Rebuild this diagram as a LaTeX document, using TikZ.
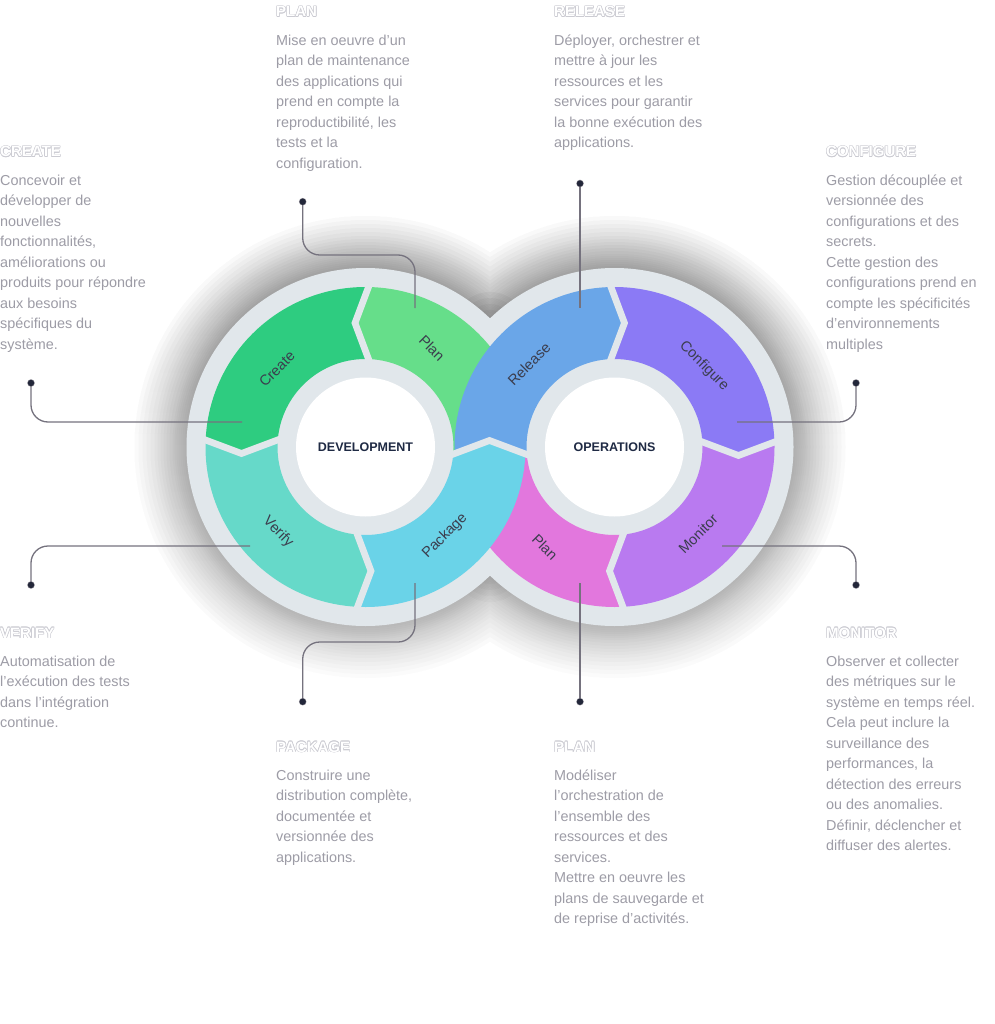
\documentclass[tikz,border=0pt]{standalone}
\usepackage{fontspec}
\setmainfont{Liberation Sans}
\usetikzlibrary{calc}
\definecolor{cCreate}{HTML}{2ECC80}
\definecolor{cPlanDev}{HTML}{66DE8A}
\definecolor{cVerify}{HTML}{66D9C9}
\definecolor{cPackage}{HTML}{6AD3E8}
\definecolor{cRelease}{HTML}{6AA6E8}
\definecolor{cConfigure}{HTML}{8B7AF5}
\definecolor{cPlanOps}{HTML}{E277DD}
\definecolor{cMonitor}{HTML}{B97AF0}
\definecolor{rim}{HTML}{E1E7EB}
\definecolor{shade}{RGB}{60,55,75}
\definecolor{bodytxt}{HTML}{9D9CA6}
\definecolor{segtxt}{HTML}{3B3D4D}
\definecolor{centertxt}{HTML}{1F2A44}
\definecolor{wire}{HTML}{75727E}
\definecolor{dotc}{HTML}{23273A}
\definecolor{titleedge}{HTML}{CBCBD2}
\newcommand\outlinedtitle[3]{%
  \foreach \ox/\oy in {-0.6/0,0.6/0,0/-0.6,0/0.6,-0.45/-0.45,0.45/0.45,-0.45/0.45,0.45/-0.45}{
    \node[titleback] at ($(#2)+(\ox,\oy)$) {#3};
  }
  \node[titlefront] (#1) at (#2) {#3};
}
\begin{document}
\begin{tikzpicture}[x=1pt,y=-1pt,
  titleback/.style={anchor=base west,inner sep=0pt,font=\fontsize{15}{18}\selectfont\bfseries,text=titleedge},
  titlefront/.style={anchor=base west,inner sep=0pt,font=\fontsize{15}{18}\selectfont\bfseries,text=white},
  bodyblock/.style={anchor=north west,inner sep=0pt,align=left,font=\fontsize{14.4}{20.5}\selectfont,text=bodytxt},
  seglbl/.style={inner sep=0pt,font=\fontsize{14.5}{16}\selectfont,text=segtxt},
  centerlbl/.style={inner sep=0pt,font=\fontsize{12.5}{15}\selectfont\bfseries,text=centertxt},
  gapline/.style={draw=rim,line width=6.7pt,line join=miter},
  conn/.style={draw=wire,line width=1.3pt,rounded corners=17pt},
  dotnode/.style={circle,inner sep=0pt,minimum size=6pt,fill=dotc,draw=wire!80,line width=1.4pt}]
\useasboundingbox (0,0) rectangle (994,1024);
\fill[white] (0,0) rectangle (994,1024);

\coordinate (L) at (365.5,447);
\coordinate (R) at (614.5,447);

% ---- shadow ----
\foreach \d in {52,48,44,40,36,32,29,26,23,20,17,14,12,10,8,6,4,2}{
  \fill[shade,opacity=0.017] (L) circle[radius=179+\d] (R) circle[radius=179+\d];
}
\foreach \r in {36,30,...,6}{
  \fill[shade,opacity=0.025] (490,328) circle[radius=\r];
  \fill[shade,opacity=0.025] (490,566) circle[radius=\r];
}

% ---- grey disks ----
\fill[rim] (L) circle[radius=179] (R) circle[radius=179];

% ---- chevron points ----
\coordinate (LTo) at (368.5,287); \coordinate (LTt) at (355,323);   \coordinate (LTi) at (368.5,359);
\coordinate (LLo) at (205.5,440); \coordinate (LLt) at (241.5,453.5); \coordinate (LLi) at (277.5,440);
\coordinate (LBo) at (357.5,607); \coordinate (LBt) at (371,571);   \coordinate (LBi) at (357.5,535);
\coordinate (Mo) at (525.5,454);  \coordinate (Mt) at (489.5,440.5); \coordinate (Mi) at (453.5,454);
\coordinate (RTo) at (611,287);   \coordinate (RTt) at (624.5,323); \coordinate (RTi) at (611,359);
\coordinate (RRo) at (774.5,442); \coordinate (RRt) at (738.5,455.5); \coordinate (RRi) at (702.5,442);
\coordinate (RBo) at (623,607);   \coordinate (RBt) at (609.5,571); \coordinate (RBi) at (623,535);
\foreach \c in {LT,LL,LB,RT,RR,RB}{
  \coordinate (\c of) at ($(\c t)!3!(\c o)$);
  \coordinate (\c if) at ($(\c t)!2.5!(\c i)$);
  \coordinate (\c og) at ($(\c t)!1.35!(\c o)$);
  \coordinate (\c ig) at ($(\c t)!1.3!(\c i)$);
}
\coordinate (Ma) at ($(Mt)!3!(Mo)$);
\coordinate (Mb) at ($(Mt)!3!(Mi)$);
\coordinate (Mag) at ($(Mt)!1.35!(Mo)$);
\coordinate (Mbg) at ($(Mt)!1.3!(Mi)$);

% ---- segments ----
\begin{scope}
  \clip (L) -- (LTif) -- (LTt) -- (LTof) -- ($(L)+(300,-300)$) -- (Ma) -- (Mt) -- (Mb) -- cycle;
  \fill[cPlanDev,even odd rule] (L) circle[radius=160] (L) circle[radius=88];
\end{scope}
\begin{scope}
  \clip (R) -- (RBif) -- (RBt) -- (RBof) -- ($(R)+(-300,300)$) -- (Mb) -- (Mt) -- (Ma) -- cycle;
  \fill[cPlanOps,even odd rule] (R) circle[radius=160] (R) circle[radius=88];
\end{scope}
\begin{scope}
  \clip (L) -- (LTif) -- (LTt) -- (LTof) -- ($(L)+(-300,-300)$) -- (LLof) -- (LLt) -- (LLif) -- cycle;
  \fill[cCreate,even odd rule] (L) circle[radius=160] (L) circle[radius=88];
\end{scope}
\begin{scope}
  \clip (L) -- (LLif) -- (LLt) -- (LLof) -- ($(L)+(-300,300)$) -- (LBof) -- (LBt) -- (LBif) -- cycle;
  \fill[cVerify,even odd rule] (L) circle[radius=160] (L) circle[radius=88];
\end{scope}
\begin{scope}
  \clip (L) -- (LBif) -- (LBt) -- (LBof) -- ($(L)+(300,300)$) -- (Ma) -- (Mt) -- (Mb) -- cycle;
  \fill[cPackage,even odd rule] (L) circle[radius=160] (L) circle[radius=88];
\end{scope}
\begin{scope}
  \clip (R) -- (Ma) -- (Mt) -- (Mb) -- ($(R)+(-300,-300)$) -- (RTof) -- (RTt) -- (RTif) -- cycle;
  \fill[cRelease,even odd rule] (R) circle[radius=160] (R) circle[radius=88];
\end{scope}
\begin{scope}
  \clip (R) -- (RTif) -- (RTt) -- (RTof) -- ($(R)+(300,-300)$) -- (RRof) -- (RRt) -- (RRif) -- cycle;
  \fill[cConfigure,even odd rule] (R) circle[radius=160] (R) circle[radius=88];
\end{scope}
\begin{scope}
  \clip (R) -- (RRif) -- (RRt) -- (RRof) -- ($(R)+(300,300)$) -- (RBof) -- (RBt) -- (RBif) -- cycle;
  \fill[cMonitor,even odd rule] (R) circle[radius=160] (R) circle[radius=88];
\end{scope}

% ---- gaps ----
\foreach \c in {LT,LL,LB,RT,RR,RB}{
  \draw[gapline] (\c ig) -- (\c t) -- (\c og);
}
\draw[gapline] (Mbg) -- (Mt) -- (Mag);

% ---- hubs ----
\fill[white] (L) circle[radius=69.5];
\fill[white] (R) circle[radius=69.5];
\node[centerlbl] (devlbl) at (L) {DEVELOPMENT};
\node[centerlbl] (opslbl) at (R) {OPERATIONS};

% ---- segment labels ----
\node[seglbl,rotate=45]  (lCreate)  at (277,369) {Create};
\node[seglbl,rotate=-45] (lPlanDev) at (432,348) {Plan};
\node[seglbl,rotate=-45] (lVerify)  at (278,532) {Verify};
\node[seglbl,rotate=45]  (lPackage) at (445,536) {Package};
\node[seglbl,rotate=45]  (lRelease) at (529,364) {Release};
\node[seglbl,rotate=-45] (lConfig)  at (704,366) {Configure};
\node[seglbl,rotate=-45] (lPlanOps) at (545,547) {Plan};
\node[seglbl,rotate=45]  (lMonitor) at (698,534) {Monitor};

% ---- connectors ----
\coordinate (ePlanT) at (415,308);   \coordinate (kPlanT) at (415,255);
\coordinate (eRelease) at (580,308);
\coordinate (eCreate) at (242,422);
\coordinate (eConfig) at (737,422);
\coordinate (eVerify) at (250,546);
\coordinate (eMonitor) at (722,546);
\coordinate (ePackage) at (415,583); \coordinate (kPackage) at (415,642);
\coordinate (ePlanB) at (580,583);

\node[dotnode] (dPlanT)   at (302.7,201.7) {};
\node[dotnode] (dRelease) at (580,183.5) {};
\node[dotnode] (dCreate)  at (31,383) {};
\node[dotnode] (dConfig)  at (856,383) {};
\node[dotnode] (dVerify)  at (31,585) {};
\node[dotnode] (dMonitor) at (856,585) {};
\node[dotnode] (dPackage) at (302.7,701.7) {};
\node[dotnode] (dPlanB)   at (580,701.7) {};

\draw[conn] (dPlanT.center) |- (kPlanT) -- (ePlanT);
\draw[conn] (dRelease.center) -- (eRelease);
\draw[conn] (dCreate.center) |- (eCreate);
\draw[conn] (dConfig.center) |- (eConfig);
\draw[conn] (eVerify) -| (dVerify.center);
\draw[conn] (eMonitor) -| (dMonitor.center);
\draw[conn] (ePackage) -- (kPackage) -| (dPackage.center);
\draw[conn] (ePlanB) -- (dPlanB.center);
\foreach \n in {dPlanT,dRelease,dCreate,dConfig,dVerify,dMonitor,dPackage,dPlanB}{
  \fill[dotc] (\n.center) circle[radius=3.2];
}

% ---- titles ----
\coordinate (tPlanT) at (276,17);
\coordinate (tRelease) at (554,17);
\coordinate (tCreate) at (0,157);
\coordinate (tConfig) at (826,157);
\coordinate (tVerify) at (0,638);
\coordinate (tMonitor) at (826,638);
\coordinate (tPackage) at (276,752);
\coordinate (tPlanB) at (554,752);
\outlinedtitle{ttPlanT}{tPlanT}{PLAN}
\outlinedtitle{ttRelease}{tRelease}{RELEASE}
\outlinedtitle{ttCreate}{tCreate}{CREATE}
\outlinedtitle{ttConfig}{tConfig}{CONFIGURE}
\outlinedtitle{ttVerify}{tVerify}{VERIFY}
\outlinedtitle{ttMonitor}{tMonitor}{MONITOR}
\outlinedtitle{ttPackage}{tPackage}{PACKAGE}
\outlinedtitle{ttPlanB}{tPlanB}{PLAN}

% ---- body texts ----
\node[bodyblock] (bPlanT) at (276,30.65) {\strut Mise en oeuvre d’un\\plan de maintenance\\des applications qui\\prend en compte la\\reproductibilité, les\\tests et la\\configuration.};
\node[bodyblock] (bRelease) at (554,30.65) {\strut Déployer, orchestrer et\\mettre à jour les\\ressources et les\\services pour garantir\\la bonne exécution des\\applications.};
\node[bodyblock] (bCreate) at (0,170.65) {\strut Concevoir et\\développer de\\nouvelles\\fonctionnalités,\\améliorations ou\\produits pour répondre\\aux besoins\\spécifiques du\\système.};
\node[bodyblock] (bConfig) at (826,170.65) {\strut Gestion découplée et\\versionnée des\\configurations et des\\secrets.\\Cette gestion des\\configurations prend en\\compte les spécificités\\d’environnements\\multiples};
\node[bodyblock] (bVerify) at (0,651.65) {\strut Automatisation de\\l’exécution des tests\\dans l’intégration\\continue.};
\node[bodyblock] (bMonitor) at (826,651.65) {\strut Observer et collecter\\des métriques sur le\\système en temps réel.\\Cela peut inclure la\\surveillance des\\performances, la\\détection des erreurs\\ou des anomalies.\\Définir, déclencher et\\diffuser des alertes.};
\node[bodyblock] (bPackage) at (276,765.65) {\strut Construire une\\distribution complète,\\documentée et\\versionnée des\\applications.};
\node[bodyblock] (bPlanB) at (554,765.65) {\strut Modéliser\\l’orchestration de\\l’ensemble des\\ressources et des\\services.\\Mettre en oeuvre les\\plans de sauvegarde et\\de reprise d’activités.};
\end{tikzpicture}
\end{document}
